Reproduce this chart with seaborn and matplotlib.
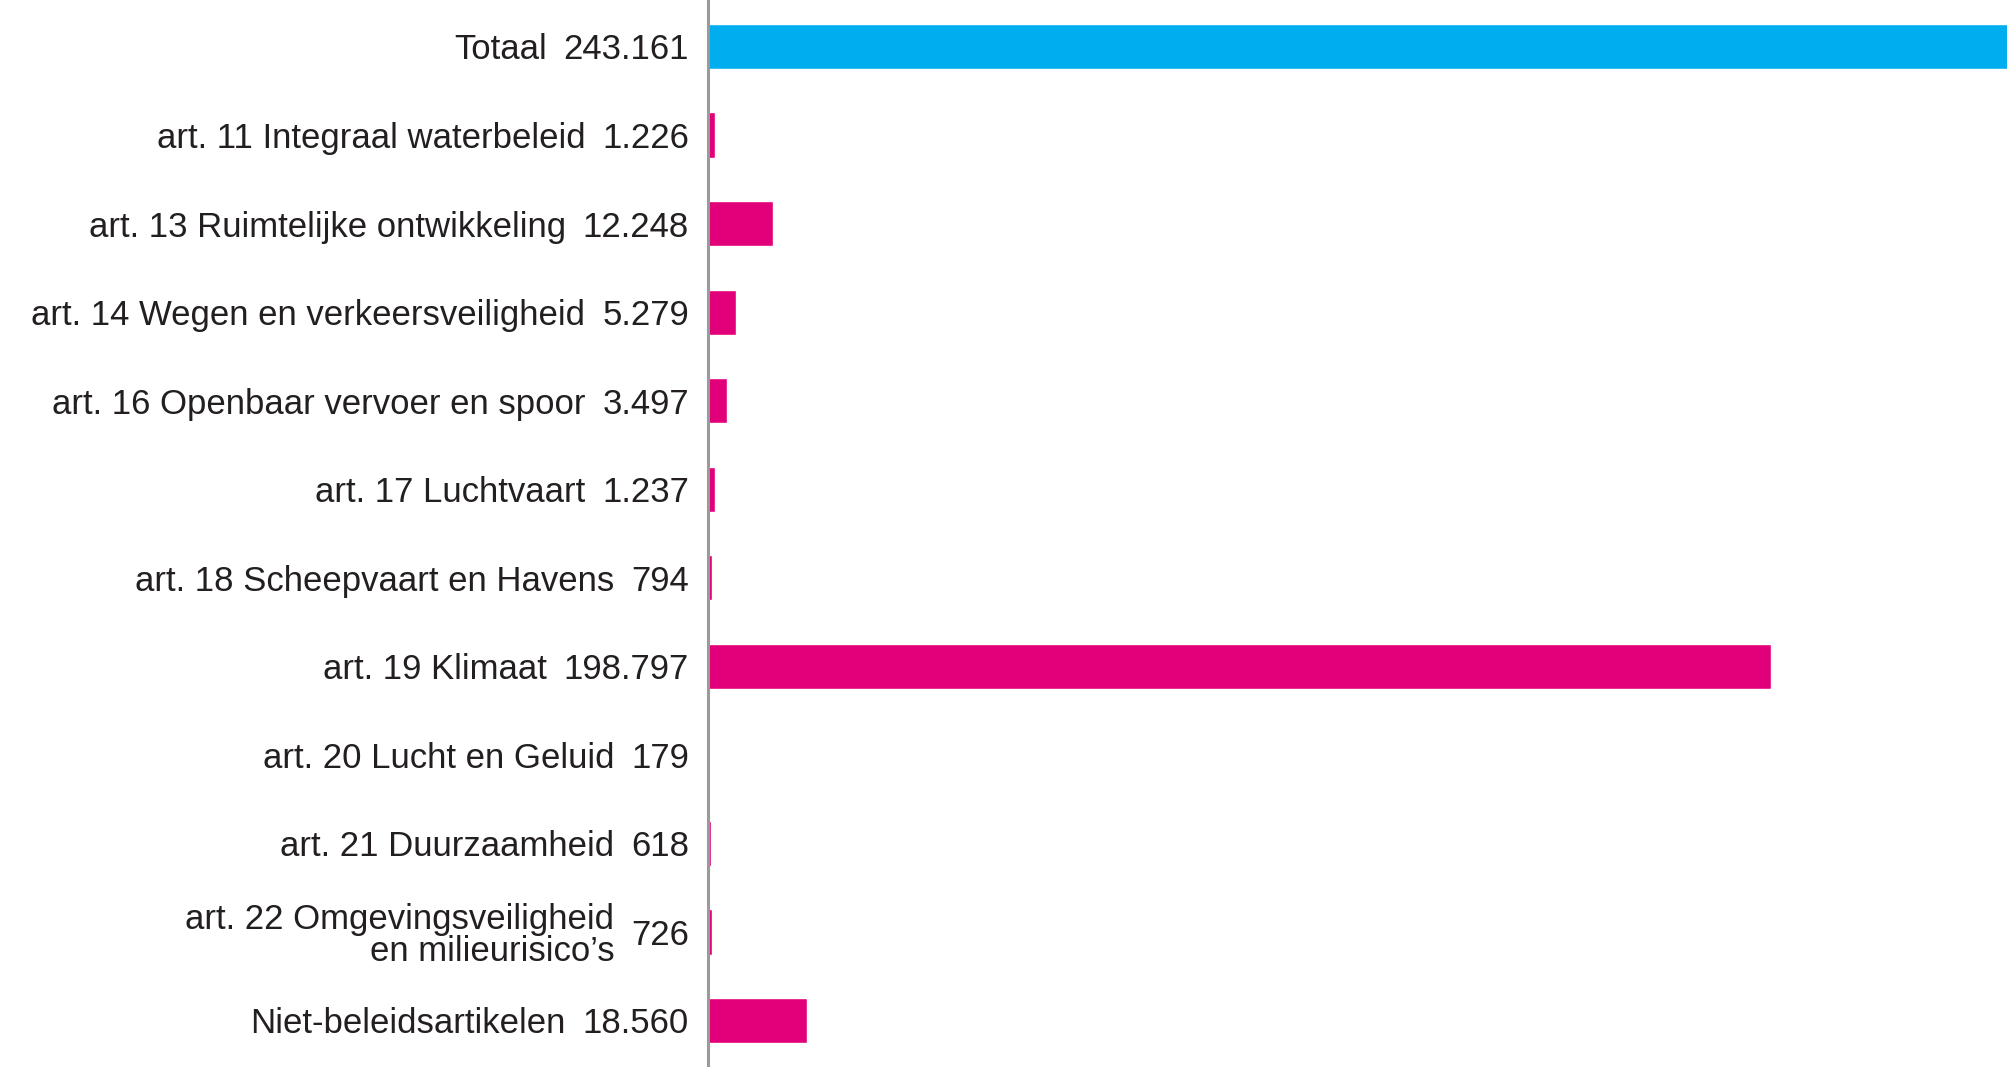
import matplotlib
matplotlib.use("Agg")
import matplotlib.pyplot as plt
import matplotlib.transforms as mtransforms
import seaborn as sns
import pandas as pd

categories = [
    "Totaal",
    "art. 11 Integraal waterbeleid",
    "art. 13 Ruimtelijke ontwikkeling",
    "art. 14 Wegen en verkeersveiligheid",
    "art. 16 Openbaar vervoer en spoor",
    "art. 17 Luchtvaart",
    "art. 18 Scheepvaart en Havens",
    "art. 19 Klimaat",
    "art. 20 Lucht en Geluid",
    "art. 21 Duurzaamheid",
    "art. 22 Omgevingsveiligheid\nen milieurisico\u2019s",
    "Niet-beleidsartikelen",
]
values = [243161, 1226, 12248, 5279, 3497, 1237, 794, 198797, 179, 618, 726, 18560]
bar_colors = ["#00ADEE"] + ["#E2007A"] * 11

sns.set_theme(style="white")
plt.rcParams["font.family"] = ["Liberation Sans", "DejaVu Sans"]

df = pd.DataFrame({"cat": categories, "val": values})

fig = plt.figure(figsize=(20.08, 10.67), dpi=100)
ax = fig.add_axes([708 / 2008, 0, 1 - 708 / 2008, 1])

sns.barplot(data=df, x="val", y="cat", hue="cat", palette=bar_colors,
            legend=False, width=0.51, orient="h", ax=ax, saturation=1)

ax.set_xlim(0, values[0])
ax.set_ylim(len(categories) - 0.475, -0.525)
ax.set_xlabel("")
ax.set_ylabel("")
ax.set_xticks([])
ax.set_yticks([])
for s in ["top", "right", "bottom"]:
    ax.spines[s].set_visible(False)
ax.spines["left"].set_color("#9A9A9A")
ax.spines["left"].set_linewidth(2.2)


def fmt(v):
    return f"{v:,}".replace(",", ".")


trans = mtransforms.blended_transform_factory(ax.transAxes, ax.transData)
for i, (c, v) in enumerate(zip(categories, values)):
    t = ax.annotate(fmt(v), xy=(0, i), xycoords=trans, xytext=(-13.8, -2.5),
                    textcoords="offset points", ha="right", va="center",
                    fontsize=25, color="#231F20")
    ax.annotate(c, xy=(0, 0.5), xycoords=t, xytext=(-12, 0),
                textcoords="offset points", ha="right", va="center",
                fontsize=25, color="#231F20", multialignment="right",
                linespacing=0.98)

fig.savefig("out.png", dpi=100)
